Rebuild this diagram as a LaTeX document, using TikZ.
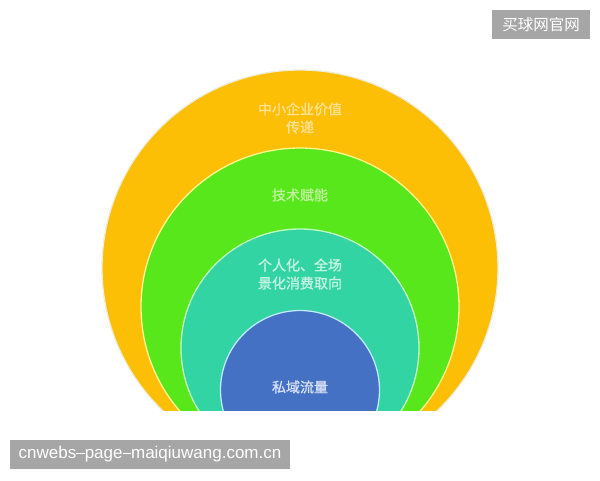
\documentclass[tikz,border=0pt]{standalone}
\usepackage{fontspec}
\setmainfont{Liberation Sans}
\newfontfamily\cjk{Noto Sans CJK SC}
\newfontfamily\cjkb[FakeBold=1.2]{Noto Sans CJK SC}
\definecolor{cyel}{HTML}{FDBE06}
\definecolor{cgrn}{HTML}{58E71B}
\definecolor{ctea}{HTML}{31D4A2}
\definecolor{cblu}{HTML}{4471C4}
\definecolor{tyel}{HTML}{FFE294}
\definecolor{tgrn}{HTML}{BFF39E}
\definecolor{ttea}{HTML}{C4F2E2}
\definecolor{tblu}{HTML}{D6E0F6}
\definecolor{wmgray}{HTML}{A6A6A6}
\tikzset{
  ring/.style={line width=1.3pt},
  lbl/.style={font=\cjkb\fontsize{14}{18}\selectfont, align=center, inner sep=0pt},
  wm/.style={fill=wmgray, text=white, inner sep=0pt, anchor=center}
}
\begin{document}
\begin{tikzpicture}[x=1pt,y=-1pt]
\useasboundingbox[fill=white] (0,0) rectangle (600,480);
\begin{scope}
\clip (0,0) rectangle (600,410);
\draw[ring, fill=cyel, draw=yellow!10!white!85!gray] (300,268) circle[radius=198];
\draw[ring, fill=cgrn, draw=yellow!45!white] (300,307) circle[radius=159];
\draw[ring, fill=ctea, draw=green!25!white] (300,348) circle[radius=119];
\draw[ring, fill=cblu, draw=cyan!25!white] (300,390) circle[radius=79.5];
\end{scope}
\node[lbl, text=tyel] (l1) at (300,118) {中小企业价值\\传递};
\node[lbl, text=tgrn] (l2) at (300,195) {技术赋能};
\node[lbl, text=ttea] (l3) at (300,274) {个人化、全场\\景化消费取向};
\node[lbl, text=tblu] (l4) at (300,387) {私域流量};
\node[wm, minimum width=98, minimum height=29] (w1) at (541,24.5) {\cjk\fontsize{15.5}{18}\selectfont 买球网官网};
\node[wm, minimum width=280, minimum height=29] (w2) at (150,454.5) {\fontsize{17}{20}\selectfont cnwebs\raisebox{4.6pt}{\rule{8.5pt}{1.1pt}}page\raisebox{4.6pt}{\rule{8.5pt}{1.1pt}}maiqiuwang.com.cn};
\end{tikzpicture}
\end{document}
